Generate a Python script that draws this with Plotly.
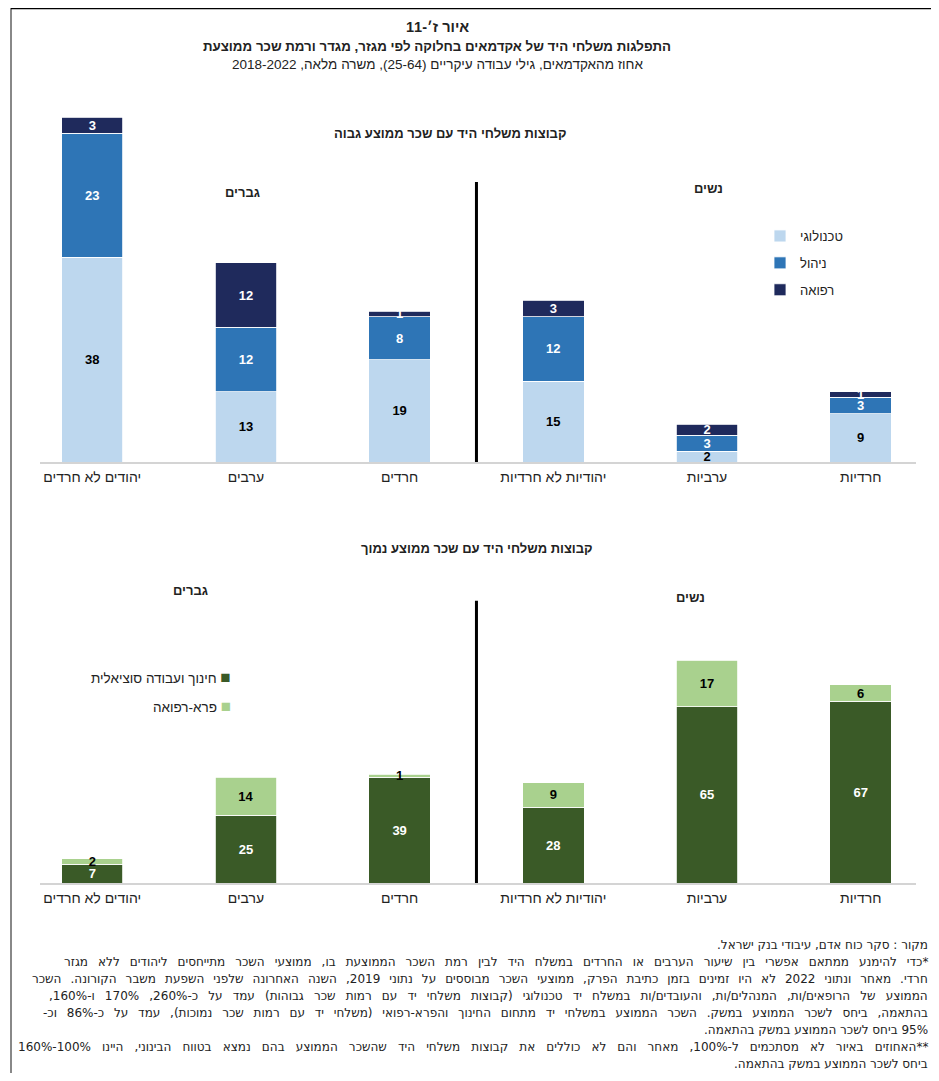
"""Figure 7-11: academics' occupations by sector, gender and wage level."""

import plotly.graph_objects as go

# The page body has an 8px margin, so the figure is drawn smaller and
# all positions below are given in page pixels and shifted.
PAGE_W, PAGE_H = 939, 1081
OFF = 8
W, H = PAGE_W - 2 * OFF, PAGE_H - 2 * OFF

RLE, PDF = "\u202b", "\u202c"

# Data
categories = ["יהודים לא חרדים", "ערבים", "חרדים", "יהודיות לא חרדיות", "ערביות", "חרדיות"]
tech = [38, 13, 19, 15, 2, 9]
mgmt = [23, 12, 8, 12, 3, 3]
med = [3, 12, 1, 3, 2, 1]
edu = [7, 25, 39, 28, 65, 67]
para = [2, 14, 1, 9, 17, 6]

COLORS = {
    "tech": "#bdd7ee",
    "mgmt": "#2e75b6",
    "med": "#1f2a5c",
    "edu": "#3a5a27",
    "para": "#a9d18e",
    "axis": "#d4d4d4",
    "text": "#222222",
}

FONT = "Liberation Sans, Arial, DejaVu Sans, sans-serif"
NOTE_FONT = "DejaVu Sans, Liberation Sans, sans-serif"


def px_x(x):
    return (x - OFF) / W


def px_y(y):
    return 1 - (y - OFF) / H


def rtl(s):
    return RLE + s + PDF


fig = go.Figure()

# Top panel: high-wage occupations
top_series = [
    ("טכנולוגי", tech, COLORS["tech"], "black"),
    ("ניהול", mgmt, COLORS["mgmt"], "white"),
    ("רפואה", med, COLORS["med"], "white"),
]
for i, (name, vals, color, tcolor) in enumerate(top_series):
    fig.add_trace(
        go.Bar(
            x=categories,
            y=vals,
            name=name,
            width=0.4,
            marker=dict(color=color, line=dict(color="white", width=0.8)),
            texttemplate="<b>%{y}</b>",
            textposition="inside",
            insidetextanchor="middle",
            textangle=0,
            textfont=dict(color=tcolor, size=13, family=FONT),
            legendgroup=f"g{i}",
            xaxis="x",
            yaxis="y",
            hoverinfo="skip",
        )
    )

# Bottom panel: low-wage occupations
bottom_series = [
    ("חינוך ועבודה סוציאלית", edu, COLORS["edu"], "white"),
    ("פרא-רפואה", para, COLORS["para"], "black"),
]
for name, vals, color, tcolor in bottom_series:
    fig.add_trace(
        go.Bar(
            x=categories,
            y=vals,
            name=name,
            width=0.4,
            marker=dict(color=color, line=dict(color="white", width=0.8)),
            texttemplate="<b>%{y}</b>",
            textposition="inside",
            insidetextanchor="middle",
            textangle=0,
            textfont=dict(color=tcolor, size=13, family=FONT),
            showlegend=False,
            xaxis="x2",
            yaxis="y2",
            hoverinfo="skip",
        )
    )

xaxis_common = dict(
    type="category",
    range=[-0.34, 5.36],
    showline=True,
    linecolor=COLORS["axis"],
    linewidth=2,
    ticks="outside",
    ticklen=1,
    tickcolor="rgba(0,0,0,0)",
    showgrid=False,
    zeroline=False,
    tickfont=dict(size=14, color=COLORS["text"], family=FONT),
    fixedrange=True,
)
yaxis_common = dict(
    showticklabels=False,
    showgrid=False,
    zeroline=False,
    showline=False,
    ticks="",
    fixedrange=True,
)

fig.update_layout(
    width=W,
    height=H,
    margin=dict(l=0, r=0, t=0, b=0),
    paper_bgcolor="white",
    plot_bgcolor="white",
    barmode="stack",
    font=dict(family=FONT, color=COLORS["text"]),
    uniformtext=dict(minsize=13, mode="show"),
    xaxis=dict(domain=[px_x(40), px_x(916)], anchor="y", **xaxis_common),
    yaxis=dict(domain=[px_y(462), px_y(85)], range=[0, 70], anchor="x", **yaxis_common),
    xaxis2=dict(domain=[px_x(40), px_x(916)], anchor="y2", **xaxis_common),
    yaxis2=dict(domain=[px_y(883), px_y(579)], range=[0, 112], anchor="x2", **yaxis_common),
    legend=dict(
        x=px_x(760),
        y=px_y(221),
        xanchor="left",
        yanchor="top",
        traceorder="grouped",
        tracegroupgap=7,
        font=dict(size=13, color=COLORS["text"], family=FONT),
        bgcolor="rgba(0,0,0,0)",
        itemwidth=30,
    ),
    showlegend=True,
)

# Divider between men and women
for xr, yr, y1 in [("x", "y", 52), ("x2", "y2", 104)]:
    fig.add_shape(
        type="line", xref=xr, yref=yr, x0=2.5, x1=2.5, y0=0, y1=y1,
        line=dict(color="black", width=3),
    )

# Frame lines
fig.add_shape(type="line", xref="paper", yref="paper",
              x0=px_x(11), x1=px_x(11), y0=0, y1=1,
              line=dict(color="#888888", width=2))
fig.add_shape(type="line", xref="paper", yref="paper",
              x0=px_x(11), x1=1, y0=0.9995, y1=0.9995,
              line=dict(color="black", width=1.5))

annotations = []

# Title block
title_lines = [
    ("<b>" + rtl("איור ז׳-11") + "</b>", 27, 14.5),
    ("<b>" + rtl("התפלגות משלחי היד של אקדמאים בחלוקה לפי מגזר, מגדר ורמת שכר ממוצעת") + "</b>", 46, 13.3),
    (rtl("אחוז מהאקדמאים, גילי עבודה עיקריים (25-64), משרה מלאה, 2018-2022"), 64, 13.5),
]
for txt, y, size in title_lines:
    annotations.append(dict(
        text=txt, x=px_x(437), y=px_y(y), xref="paper", yref="paper",
        xanchor="center", yanchor="middle", showarrow=False,
        font=dict(size=size, color=COLORS["text"], family=FONT),
    ))

# Panel titles
annotations.append(dict(
    text="<b>" + rtl("קבוצות משלחי היד עם שכר ממוצע גבוה") + "</b>",
    x=px_x(450), y=px_y(133), xref="paper", yref="paper",
    xanchor="center", yanchor="middle", showarrow=False,
    font=dict(size=13, color=COLORS["text"], family=FONT),
))
annotations.append(dict(
    text="<b>" + rtl("קבוצות משלחי היד עם שכר ממוצע נמוך") + "</b>",
    x=px_x(477), y=px_y(548), xref="paper", yref="paper",
    xanchor="center", yanchor="middle", showarrow=False,
    font=dict(size=13, color=COLORS["text"], family=FONT),
))

# Gender labels
for txt, x, y in [("גברים", 242, 192), ("נשים", 708, 188), ("גברים", 190, 590), ("נשים", 690, 597)]:
    annotations.append(dict(
        text="<b>" + txt + "</b>", x=px_x(x), y=px_y(y), xref="paper", yref="paper",
        xanchor="center", yanchor="middle", showarrow=False,
        font=dict(size=13, color=COLORS["text"], family=FONT),
    ))

# Bottom legend (marker on the right, RTL style)
for (name, _, color, _), y in zip(bottom_series, [677, 706]):
    annotations.append(dict(
        text=f"{name} <span style='color:{color};font-size:17px'>■</span>",
        x=px_x(233), y=px_y(y), xref="paper", yref="paper",
        xanchor="right", yanchor="middle", showarrow=False,
        font=dict(size=13.5, color=COLORS["text"], family=FONT),
    ))

# Notes (justified lines get extra word spacing, like the source document)
note_lines = [
    ("מקור : סקר כוח אדם, עיבודי בנק ישראל.", 0),
    ("*כדי להימנע ממתאם אפשרי בין שיעור הערבים או החרדים במשלח היד לבין רמת השכר הממוצעת בו, ממוצעי השכר מתייחסים ליהודים ללא מגזר", 130),
    ("חרדי. מאחר ונתוני 2022 לא היו זמינים בזמן כתיבת הפרק, ממוצעי השכר מבוססים על נתוני 2019, השנה האחרונה שלפני השפעת משבר הקורונה. השכר", 115),
    ("הממוצע של הרופאים/ות, המנהלים/ות, והעובדים/ות במשלח יד טכנולוגי (קבוצות משלחי יד עם רמות שכר גבוהות) עמד על כ-260%, 170% ו-160%,", 120),
    ("בהתאמה, ביחס לשכר הממוצע במשק. השכר הממוצע במשלחי יד מתחום החינוך והפרא-רפואי (משלחי יד עם רמות שכר נמוכות), עמד על כ-86% וכ-", 125),
    ("95% ביחס לשכר הממוצע במשק בהתאמה.", 0),
    ("**האחוזים באיור לא מסתכמים ל-100%, מאחר והם לא כוללים את קבוצות משלחי היד שהשכר הממוצע בהם נמצא בטווח הבינוני, היינו 100%-160%", 146),
    ("ביחס לשכר הממוצע במשק בהתאמה.", 0),
]
for i, (line, extra) in enumerate(note_lines):
    txt = rtl(line)
    if extra:
        ws = extra / line.count(" ")
        txt = f"<span style='word-spacing:{ws:.1f}px'>{txt}</span>"
    annotations.append(dict(
        text=txt, x=px_x(930), y=px_y(945 + 17 * i), xref="paper", yref="paper",
        xanchor="right", yanchor="middle", showarrow=False, align="right",
        font=dict(size=12, color=COLORS["text"], family=NOTE_FONT),
    ))

fig.update_layout(annotations=annotations)

fig.write_html("out.html")
